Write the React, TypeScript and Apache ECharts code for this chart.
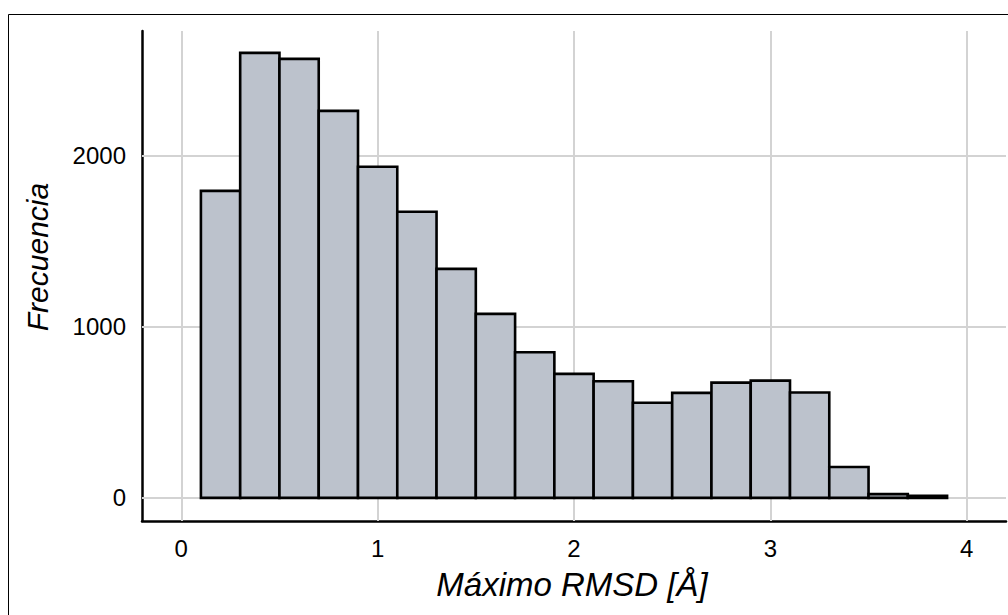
import React, { useEffect, useRef } from "react";
import * as echarts from "echarts";

const binStarts = [0.1, 0.3, 0.5, 0.7, 0.9, 1.1, 1.3, 1.5, 1.7, 1.9, 2.1, 2.3, 2.5, 2.7, 2.9, 3.1, 3.3, 3.5, 3.7];
const binWidth = 0.2;
const counts = [1795, 2602, 2567, 2263, 1936, 1673, 1339, 1076, 852, 725, 682, 556, 614, 674, 686, 616, 181, 22, 12];
const xTicks = [0, 1, 2, 3, 4];
const yTicks = [0, 1000, 2000];
const xTitle = "Máximo RMSD [Å]";
const yTitle = "Frecuencia";

const FONT = "Liberation Sans, Arial, Helvetica, sans-serif";

export default function App() {
  const ref = useRef<HTMLDivElement>(null);
  useEffect(() => {
    document.body.style.margin = "0";
    const chart = echarts.init(ref.current!, undefined, { renderer: "svg" });
    const data = binStarts.map((s, i) => [s, s + binWidth, counts[i]]);
    const option: any = {
      animation: false,
      backgroundColor: "#fff",
      grid: { left: 142, top: 31, right: 2, bottom: 94, containLabel: false },
      xAxis: {
        type: "value",
        min: -0.2,
        max: 4.2,
        axisLine: { show: true, onZero: false, lineStyle: { color: "#000", width: 2.5 } },
        axisTick: { show: false },
        splitLine: { show: false },
        axisLabel: {
          customValues: xTicks,
          formatter: (v: number) => String(v),
          margin: 15,
          color: "#000",
          fontSize: 24,
          fontFamily: FONT,
        },
      },
      yAxis: {
        type: "value",
        min: -135,
        max: 2730,
        axisLine: { show: true, onZero: false, lineStyle: { color: "#000", width: 2.5 } },
        axisTick: { show: false },
        splitLine: { show: false },
        axisLabel: {
          customValues: yTicks,
          formatter: (v: number) => String(v),
          margin: 16,
          color: "#000",
          fontSize: 24,
          fontFamily: FONT,
        },
      },
      graphic: [
        {
          type: "rect",
          shape: { x: 8.5, y: 14.5, width: 1010, height: 620 },
          style: { fill: "none", stroke: "#000", lineWidth: 1 },
          z: 100,
          silent: true,
        },
        {
          type: "text",
          x: 37,
          y: 257,
          rotation: Math.PI / 2,
          style: {
            text: yTitle,
            font: "italic 30px " + FONT,
            fill: "#000",
            textAlign: "center",
            textVerticalAlign: "middle",
          },
        },
        {
          type: "text",
          x: 572,
          y: 584,
          style: {
            text: xTitle,
            font: "italic 33px " + FONT,
            fill: "#000",
            textAlign: "center",
            textVerticalAlign: "middle",
          },
        },
      ],
      series: [
        {
          type: "line",
          data: [],
          z: 1,
          markLine: {
            silent: true,
            symbol: "none",
            label: { show: false },
            lineStyle: { color: "#d3d3d3", width: 2, type: "solid" },
            data: [
              ...xTicks.map((v) => ({ xAxis: v })),
              ...yTicks.map((v) => ({ yAxis: v })),
            ],
          },
        },
        {
          type: "custom",
          z: 5,
          data,
          encode: { x: [0, 1], y: 2 },
          renderItem: (params: any, api: any) => {
            const p0 = api.coord([api.value(0), api.value(2)]);
            const p1 = api.coord([api.value(1), 0]);
            return {
              type: "rect",
              shape: { x: p0[0], y: p0[1], width: p1[0] - p0[0], height: p1[1] - p0[1] },
              style: { fill: "#bcc2cc", stroke: "#000", lineWidth: 2.6 },
            };
          },
        },
      ],
    };
    chart.setOption(option);
    return () => chart.dispose();
  }, []);
  return <div ref={ref} style={{ width: 1008, height: 615 }} />;
}
